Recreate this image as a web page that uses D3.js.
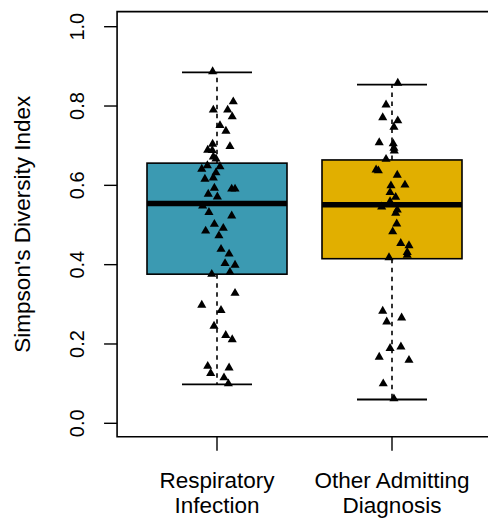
<!DOCTYPE html>
<html>
<head>
<meta charset="utf-8">
<script src="https://cdn.jsdelivr.net/npm/d3@7"></script>
<style>
  body { margin: 0; background: #fff; }
  text { font-family: "Liberation Sans", Arial, Helvetica, sans-serif; fill: #000; }
</style>
</head>
<body>
<div id="chart"></div>
<script>
var groups = ["Respiratory\nInfection", "Other Admitting\nDiagnosis"];
var groupColors = ["#3B9AB2", "#E1AF00"];

// box stats per group: lower whisker, q1, median, q3, upper whisker
var whiskerLow = [0.098, 0.060];
var q1 = [0.376, 0.415];
var median = [0.554, 0.551];
var q3 = [0.656, 0.664];
var whiskerHigh = [0.885, 0.854];

// observed values and their horizontal jitter (in group units)
var respValues = [0.887, 0.811, 0.790, 0.790, 0.773, 0.751, 0.737, 0.704, 0.698, 0.689,
  0.688, 0.672, 0.667, 0.650, 0.647, 0.641, 0.632, 0.619, 0.616, 0.593,
  0.591, 0.591, 0.578, 0.571, 0.548, 0.532, 0.523, 0.502, 0.492, 0.485,
  0.473, 0.439, 0.427, 0.403, 0.399, 0.376, 0.381, 0.328, 0.298, 0.285,
  0.245, 0.222, 0.211, 0.144, 0.140, 0.126, 0.115, 0.100];
var respJitter = [-0.025, 0.093, -0.021, 0.061, 0.087, 0.017, 0.051, -0.025, 0.074, -0.053,
  -0.027, -0.021, -0.006, -0.055, 0.017, -0.087, -0.006, -0.021, -0.069, -0.015,
  0.084, 0.103, -0.050, 0.002, -0.082, -0.046, 0.084, -0.015, 0.036, -0.065,
  0.011, 0.023, 0.069, 0.046, 0.103, -0.030, 0.074, 0.103, -0.087, 0.023,
  -0.017, 0.050, 0.087, -0.053, 0.069, -0.036, 0.040, 0.065];

var otherValues = [0.858, 0.803, 0.771, 0.763, 0.747, 0.708, 0.705, 0.694, 0.687, 0.666,
  0.639, 0.637, 0.626, 0.601, 0.599, 0.582, 0.570, 0.559, 0.546, 0.538,
  0.530, 0.503, 0.483, 0.454, 0.448, 0.431, 0.424, 0.418, 0.283, 0.256,
  0.266, 0.189, 0.193, 0.167, 0.159, 0.100, 0.062];
var otherJitter = [0.033, -0.034, -0.053, 0.033, 0.011, -0.073, 0.007, 0.011, 0.013, -0.034,
  -0.091, -0.078, 0.030, 0.074, -0.006, -0.011, 0.021, -0.011, -0.059, 0.030,
  0.021, 0.027, 0.004, 0.050, 0.097, 0.087, 0.087, -0.017, -0.053, -0.030,
  0.055, -0.011, 0.051, -0.073, 0.097, -0.050, 0.011];

var yTicks = [0, 0.2, 0.4, 0.6, 0.8, 1.0];

var width = 488;
var height = 520;
var boxWidth = 0.8;

var svg = d3.select("#chart")
  .append("svg")
  .attr("width", width)
  .attr("height", height);

var x = d3.scaleLinear().domain([1, 2]).range([217, 392]);
var y = d3.scaleLinear().domain([0, 1]).range([423.3, 26.7]);

// plot frame (right side runs off the picture)
var frameLeft = x(1 - 0.571);
var frameTop = y(1.038);
var frameBottom = y(-0.034);
svg.append("path")
  .attr("d", "M" + (width + 20) + "," + frameTop + "H" + frameLeft + "V" + frameBottom + "H" + (width + 20))
  .attr("fill", "none")
  .attr("stroke", "#000")
  .attr("stroke-width", 1.6);

// y axis
var yAxis = svg.append("g");
yAxis.selectAll("line")
  .data(yTicks)
  .enter()
  .append("line")
  .attr("x1", frameLeft - 13)
  .attr("x2", frameLeft)
  .attr("y1", d => y(d))
  .attr("y2", d => y(d))
  .attr("stroke", "#000")
  .attr("stroke-width", 1.4);
yAxis.selectAll("text")
  .data(yTicks)
  .enter()
  .append("text")
  .attr("transform", d => "translate(" + (frameLeft - 33.5) + "," + y(d) + ") rotate(-90)")
  .attr("text-anchor", "middle")
  .style("font-size", "20px")
  .text(d => d3.format(".1f")(d));

svg.append("text")
  .attr("transform", "translate(30," + ((frameTop + frameBottom) / 2) + ") rotate(-90)")
  .attr("text-anchor", "middle")
  .style("font-size", "22.5px")
  .text("Simpson's Diversity Index");

// x axis
var xAxis = svg.append("g");
xAxis.selectAll("line")
  .data(groups)
  .enter()
  .append("line")
  .attr("x1", (d, i) => x(i + 1))
  .attr("x2", (d, i) => x(i + 1))
  .attr("y1", frameBottom)
  .attr("y2", frameBottom + 14)
  .attr("stroke", "#000")
  .attr("stroke-width", 1.4);
xAxis.selectAll("text")
  .data(groups)
  .enter()
  .append("text")
  .attr("x", (d, i) => x(i + 1))
  .attr("y", 488)
  .attr("text-anchor", "middle")
  .style("font-size", "22.5px")
  .each(function (d) {
    var lines = d.split("\n");
    var t = d3.select(this);
    lines.forEach(function (line, k) {
      t.append("tspan")
        .attr("x", t.attr("x"))
        .attr("dy", k == 0 ? 0 : 25)
        .text(line);
    });
  });

// boxes
var boxes = svg.selectAll(".box")
  .data(groups)
  .enter()
  .append("g")
  .attr("class", "box");

boxes.append("line")
  .attr("x1", (d, i) => x(i + 1))
  .attr("x2", (d, i) => x(i + 1))
  .attr("y1", (d, i) => y(q3[i]))
  .attr("y2", (d, i) => y(whiskerHigh[i]))
  .attr("stroke", "#000")
  .attr("stroke-width", 1.6)
  .attr("stroke-dasharray", "4.5,4.5");
boxes.append("line")
  .attr("x1", (d, i) => x(i + 1))
  .attr("x2", (d, i) => x(i + 1))
  .attr("y1", (d, i) => y(q1[i]))
  .attr("y2", (d, i) => y(whiskerLow[i]))
  .attr("stroke", "#000")
  .attr("stroke-width", 1.6)
  .attr("stroke-dasharray", "4.5,4.5");

[whiskerHigh, whiskerLow].forEach(function (w) {
  boxes.append("line")
    .attr("x1", (d, i) => x(i + 1 - boxWidth / 4))
    .attr("x2", (d, i) => x(i + 1 + boxWidth / 4))
    .attr("y1", (d, i) => y(w[i]))
    .attr("y2", (d, i) => y(w[i]))
    .attr("stroke", "#000")
    .attr("stroke-width", 1.8);
});

boxes.append("rect")
  .attr("x", (d, i) => x(i + 1 - boxWidth / 2))
  .attr("width", x(1 + boxWidth) - x(1))
  .attr("y", (d, i) => y(q3[i]))
  .attr("height", (d, i) => y(q1[i]) - y(q3[i]))
  .attr("fill", (d, i) => groupColors[i])
  .attr("stroke", "#000")
  .attr("stroke-width", 1.6);

boxes.append("line")
  .attr("x1", (d, i) => x(i + 1 - boxWidth / 2))
  .attr("x2", (d, i) => x(i + 1 + boxWidth / 2))
  .attr("y1", (d, i) => y(median[i]))
  .attr("y2", (d, i) => y(median[i]))
  .attr("stroke", "#000")
  .attr("stroke-width", 5.5);

// jittered points
var tri = d3.symbol().type(d3.symbolTriangle).size(36);
var pointSets = [
  { values: respValues, jitter: respJitter, pos: 1 },
  { values: otherValues, jitter: otherJitter, pos: 2 }
];
pointSets.forEach(function (s) {
  svg.append("g")
    .selectAll("path")
    .data(s.values)
    .enter()
    .append("path")
    .attr("d", tri)
    .attr("transform", (d, i) => "translate(" + x(s.pos + s.jitter[i]) + "," + y(d) + ")")
    .attr("fill", "#000");
});
</script>
</body>
</html>
